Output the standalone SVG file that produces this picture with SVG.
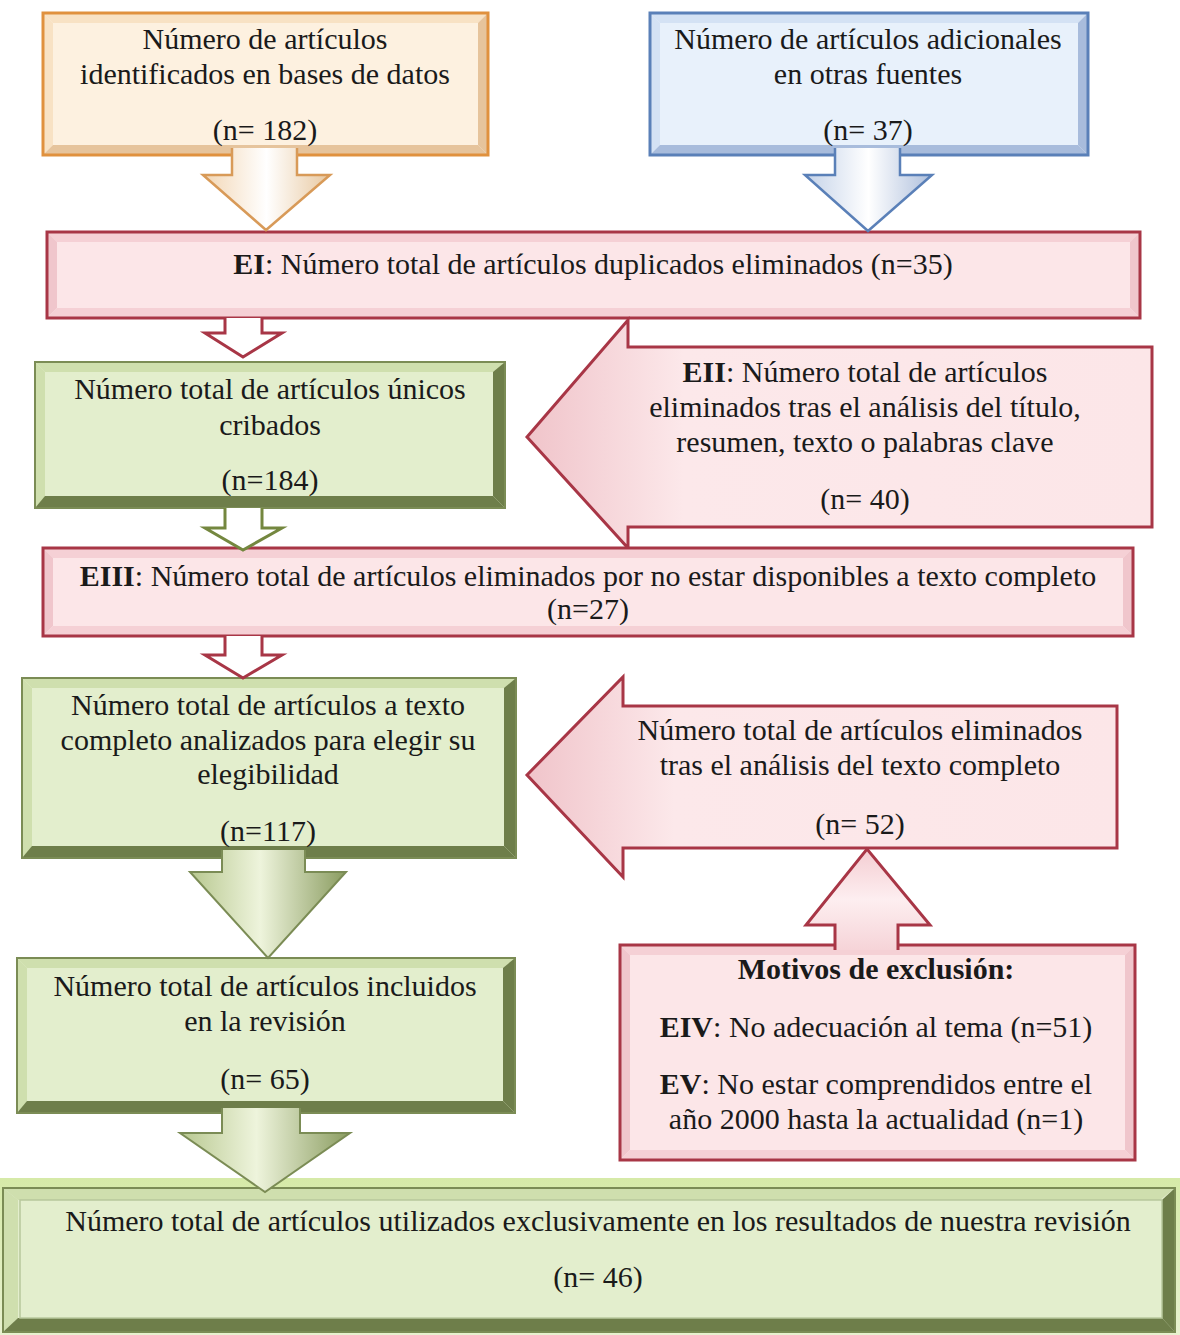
<svg xmlns="http://www.w3.org/2000/svg" width="1180" height="1335" viewBox="0 0 1180 1335">
<defs>
<linearGradient id="gOr" x1="0" y1="0" x2="1" y2="0"><stop offset="0" stop-color="#f2d6b4"/><stop offset="0.5" stop-color="#ffffff"/><stop offset="1" stop-color="#e8c8a0"/></linearGradient>
<linearGradient id="gBl" x1="0" y1="0" x2="1" y2="0"><stop offset="0" stop-color="#c4d2e8"/><stop offset="0.5" stop-color="#ffffff"/><stop offset="1" stop-color="#aebfdc"/></linearGradient>
<linearGradient id="gGr" x1="0" y1="0" x2="1" y2="0"><stop offset="0" stop-color="#b8c890"/><stop offset="0.45" stop-color="#eef4dc"/><stop offset="1" stop-color="#8a9c60"/></linearGradient>
<linearGradient id="gPk" x1="0" y1="0" x2="1" y2="0"><stop offset="0" stop-color="#f0c4ca"/><stop offset="0.25" stop-color="#fce8ea"/><stop offset="1" stop-color="#fce6e8"/></linearGradient>
<linearGradient id="gPkV" x1="0" y1="0" x2="0" y2="1"><stop offset="0" stop-color="#f4cdd2"/><stop offset="0.5" stop-color="#fdeef0"/><stop offset="1" stop-color="#f6d4d8"/></linearGradient>
<linearGradient id="gFin" x1="0" y1="0" x2="0" y2="1"><stop offset="0" stop-color="#d6eaa8"/><stop offset="1" stop-color="#e8f2d0"/></linearGradient>
</defs>
<style>
.t{font-family:"Liberation Serif","Times New Roman",serif;font-size:30px;fill:#1a1a1a;text-anchor:middle}
.b{font-weight:bold}
.or-face{fill:#fdf1e0}.or-l{fill:#f8e2c4}.or-d{fill:#e6c49c}.or-s{fill:none;stroke:#e0913e;stroke-width:3}
.bl-face{fill:#e8f1fb}.bl-l{fill:#d4e2f4}.bl-d{fill:#a8bcdc}.bl-s{fill:none;stroke:#5a80b8;stroke-width:3}
.gr-face{fill:#e3eecd}.gr-l{fill:#cfdfae}.gr-d{fill:#6e7e4a}.gr-s{fill:none;stroke:#7b8c55;stroke-width:2}
.pk-face{fill:#fce6e8}.pk-l{fill:#f5d0d5}.pk-d{fill:#f0c6cc}.pk-s{fill:none;stroke:#a83646;stroke-width:3}
.hollow-r{fill:#ffffff;stroke:#a83646;stroke-width:3}
.hollow-g{fill:#ffffff;stroke:#74873f;stroke-width:3}
.arr-or{fill:url(#gOr);stroke:#d89a58;stroke-width:2.5}
.arr-bl{fill:url(#gBl);stroke:#5a80b8;stroke-width:2.5}
.arr-gr{fill:url(#gGr);stroke:#7b8c55;stroke-width:2}
.arr-pk{fill:url(#gPk);stroke:#a83646;stroke-width:3}
.arr-up{fill:url(#gPkV);stroke:#a83646;stroke-width:3}
</style>
<rect width="1180" height="1335" fill="#ffffff"/>

<g id="box-bases-datos">
<rect x="43" y="13" width="445" height="142" class="or-face"/>
<polygon points="43,13 488,13 478,23 53,23" class="or-l"/>
<polygon points="43,13 53,23 53,145 43,155" class="or-l"/>
<polygon points="488,13 488,155 478,145 478,23" class="or-d"/>
<polygon points="43,155 488,155 478,145 53,145" class="or-d"/>
<rect x="43" y="13" width="445" height="142" class="or-s"/>
<text class="t" x="265" y="49">Número de artículos</text>
<text class="t" x="265" y="84">identificados en bases de datos</text>
<text class="t" x="265" y="140">(n= 182)</text>
</g>

<g id="box-otras-fuentes">
<rect x="650" y="13" width="438" height="142" class="bl-face"/>
<polygon points="650,13 1088,13 1078,23 660,23" class="bl-l"/>
<polygon points="650,13 660,23 660,145 650,155" class="bl-l"/>
<polygon points="1088,13 1088,155 1078,145 1078,23" class="bl-d"/>
<polygon points="650,155 1088,155 1078,145 660,145" class="bl-d"/>
<rect x="650" y="13" width="438" height="142" class="bl-s"/>
<text class="t" x="868" y="49">Número de artículos adicionales</text>
<text class="t" x="868" y="84">en otras fuentes</text>
<text class="t" x="868" y="140">(n= 37)</text>
</g>

<g id="box-EI">
<rect x="47" y="232" width="1093" height="86" class="pk-face"/>
<polygon points="47,232 1140,232 1130,242 57,242" class="pk-l"/>
<polygon points="47,232 57,242 57,308 47,318" class="pk-d"/>
<polygon points="1140,232 1140,318 1130,308 1130,242" class="pk-d"/>
<polygon points="47,318 1140,318 1130,308 57,308" class="pk-l"/>
<rect x="47" y="232" width="1093" height="86" class="pk-s"/>
<text class="t" x="593" y="274"><tspan class="b">EI</tspan>: Número total de artículos duplicados eliminados (n=35)</text>
</g>

<g id="box-cribados">
<rect x="35" y="362" width="470" height="146" class="gr-face"/>
<polygon points="35,362 505,362 495,372 45,372" class="gr-l"/>
<polygon points="35,362 45,372 45,498 35,508" class="gr-l"/>
<polygon points="505,362 505,508 493,496 493,372" class="gr-d"/>
<polygon points="35,508 505,508 493,496 45,496" class="gr-d"/>
<rect x="35" y="362" width="470" height="146" class="gr-s"/>
<text class="t" x="270" y="399">Número total de artículos únicos</text>
<text class="t" x="270" y="435">cribados</text>
<text class="t" x="270" y="490">(n=184)</text>
</g>

<g id="arrow-EII">
<polygon points="527,437 628,320 628,347 1152,347 1152,527 628,527 628,548" class="arr-pk"/>
<text class="t" x="865" y="382"><tspan class="b">EII</tspan>: Número total de artículos</text>
<text class="t" x="865" y="417">eliminados tras el análisis del título,</text>
<text class="t" x="865" y="452">resumen, texto o palabras clave</text>
<text class="t" x="865" y="509">(n= 40)</text>
</g>

<g id="box-EIII">
<rect x="43" y="548" width="1090" height="88" class="pk-face"/>
<polygon points="43,548 1133,548 1123,558 53,558" class="pk-l"/>
<polygon points="43,548 53,558 53,626 43,636" class="pk-d"/>
<polygon points="1133,548 1133,636 1123,626 1123,558" class="pk-d"/>
<polygon points="43,636 1133,636 1123,626 53,626" class="pk-l"/>
<rect x="43" y="548" width="1090" height="88" class="pk-s"/>
<text class="t" x="588" y="586"><tspan class="b">EIII</tspan>: Número total de artículos eliminados por no estar disponibles a texto completo</text>
<text class="t" x="588" y="619">(n=27)</text>
</g>

<g id="box-texto-completo">
<rect x="22" y="678" width="494" height="180" class="gr-face"/>
<polygon points="22,678 516,678 506,688 32,688" class="gr-l"/>
<polygon points="22,678 32,688 32,848 22,858" class="gr-l"/>
<polygon points="516,678 516,858 504,846 504,688" class="gr-d"/>
<polygon points="22,858 516,858 504,846 32,846" class="gr-d"/>
<rect x="22" y="678" width="494" height="180" class="gr-s"/>
<text class="t" x="268" y="715">Número total de artículos a texto</text>
<text class="t" x="268" y="750">completo analizados para elegir su</text>
<text class="t" x="268" y="784">elegibilidad</text>
<text class="t" x="268" y="841">(n=117)</text>
</g>

<g id="arrow-eliminados-texto">
<polygon points="527,775 623,677 623,706 1117,706 1117,848 623,848 623,877" class="arr-pk"/>
<text class="t" x="860" y="740">Número total de artículos eliminados</text>
<text class="t" x="860" y="775">tras el análisis del texto completo</text>
<text class="t" x="860" y="834">(n= 52)</text>
</g>

<g id="box-motivos">
<rect x="620" y="945" width="515" height="215" class="pk-face"/>
<polygon points="620,945 1135,945 1125,955 630,955" class="pk-l"/>
<polygon points="620,945 630,955 630,1150 620,1160" class="pk-d"/>
<polygon points="1135,945 1135,1160 1125,1150 1125,955" class="pk-d"/>
<polygon points="620,1160 1135,1160 1125,1150 630,1150" class="pk-l"/>
<rect x="620" y="945" width="515" height="215" class="pk-s"/>
<text class="t b" x="876" y="979">Motivos de exclusión:</text>
<text class="t" x="876" y="1037"><tspan class="b">EIV</tspan>: No adecuación al tema (n=51)</text>
<text class="t" x="876" y="1094"><tspan class="b">EV</tspan>: No estar comprendidos entre el</text>
<text class="t" x="876" y="1129">año 2000 hasta la actualidad (n=1)</text>
</g>

<g id="box-incluidos">
<rect x="17" y="958" width="498" height="155" class="gr-face"/>
<polygon points="17,958 515,958 505,968 27,968" class="gr-l"/>
<polygon points="17,958 27,968 27,1103 17,1113" class="gr-l"/>
<polygon points="515,958 515,1113 503,1101 503,968" class="gr-d"/>
<polygon points="17,1113 515,1113 503,1101 27,1101" class="gr-d"/>
<rect x="17" y="958" width="498" height="155" class="gr-s"/>
<text class="t" x="265" y="996">Número total de artículos incluidos</text>
<text class="t" x="265" y="1031">en la revisión</text>
<text class="t" x="265" y="1089">(n= 65)</text>
</g>

<g id="box-final">
<rect x="0" y="1178" width="1180" height="157" fill="url(#gFin)"/>
<rect x="3" y="1188" width="1172" height="144" class="gr-face"/>
<polygon points="3,1188 1175,1188 1160,1200 18,1200" class="gr-l"/>
<polygon points="3,1188 18,1200 18,1318 3,1332" class="gr-l"/>
<polygon points="1175,1188 1175,1332 1162,1318 1162,1200" class="gr-d"/>
<polygon points="3,1332 1175,1332 1162,1318 18,1318" class="gr-d"/>
<rect x="3" y="1188" width="1172" height="144" class="gr-s"/>
<rect x="20" y="1200" width="1142" height="118" fill="none" stroke="#b8c89c" stroke-width="1.5"/>
<text class="t" x="598" y="1231">Número total de artículos utilizados exclusivamente en los resultados de nuestra revisión</text>
<text class="t" x="598" y="1287">(n= 46)</text>
</g>

<g id="connectors">
<path d="M232,148 L232,175 L203,175 L266,230 L330,175 L297,175 L297,148" class="arr-or"/>
<path d="M835,148 L835,175 L805,175 L868,231 L932,175 L900,175 L900,148" class="arr-bl"/>
<path d="M225,318 L225,333 L205,333 L243,357 L282,333 L262,333 L262,318" class="hollow-r"/>
<path d="M225,508 L225,528 L205,528 L243,550 L282,528 L262,528 L262,508" class="hollow-g"/>
<path d="M225,636 L225,655 L205,655 L243,678 L282,655 L262,655 L262,636" class="hollow-r"/>
<path d="M222,850 L222,872 L190,872 L268,958 L346,872 L305,872 L305,850" class="arr-gr"/>
<path d="M222,1108 L222,1133 L180,1133 L265,1192 L350,1133 L300,1133 L300,1108" class="arr-gr"/>
<path d="M835,950 L835,925 L806,925 L867,849 L930,925 L898,925 L898,950" class="arr-up"/>
</g>
</svg>
